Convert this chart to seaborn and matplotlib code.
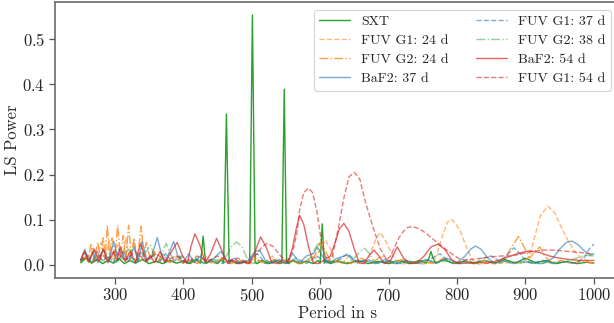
import matplotlib
matplotlib.use("Agg")
import matplotlib.pyplot as plt
import seaborn as sns
import pandas as pd

# ---------------- data (period in s, LS power) ----------------
sxt_p = [250,258,266,274,282,290,298,306,314,322,330,340,350,360,370,380,390,400,410,418,425,427,429,431,433,440,450,456,459,463,467,470,478,486,494,497,501,505,508,515,525,535,541,544,547.5,551,554,560,570,580,590,597,600,603,606,609,615,625,640,655,670,685,700,715,730,745,755,759,762,765,769,780,795,810,825,840,855,870,885,900,915,930,945,960,975,990,1000]
sxt_v = [0.005,0.015,0.004,0.012,0.003,0.01,0.004,0.014,0.003,0.01,0.004,0.012,0.003,0.008,0.003,0.01,0.004,0.008,0.003,0.012,0.004,0.03,0.064,0.03,0.004,0.01,0.003,0.012,0.004,0.334,0.004,0.01,0.003,0.008,0.003,0.005,0.553,0.005,0.003,0.01,0.003,0.008,0.003,0.005,0.389,0.005,0.003,0.01,0.003,0.008,0.003,0.01,0.004,0.091,0.004,0.01,0.003,0.008,0.003,0.01,0.003,0.008,0.003,0.01,0.003,0.01,0.004,0.015,0.03,0.015,0.004,0.012,0.003,0.008,0.003,0.01,0.004,0.012,0.004,0.015,0.005,0.01,0.003,0.008,0.003,0.006,0.004]

fuvg1_24_p = [250,256,262,268,274,280,286,292,298,304,310,316,322,328,334,340,347,355,362,370,380,390,400,410,420,432,444,456,468,480,492,505,518,530,542,555,568,580,592,600,608,615,622,632,642,652,662,670,676,682,688,695,704,712,722,735,748,760,768,773,780,786,792,798,805,815,823,832,845,858,870,882,892,900,908,915,922,933,943,952,962,972,982,992,1000]
fuvg1_24_v = [0.01,0.03,0.008,0.04,0.01,0.05,0.012,0.055,0.01,0.045,0.008,0.06,0.01,0.05,0.008,0.04,0.006,0.03,0.005,0.025,0.004,0.02,0.003,0.015,0.004,0.02,0.003,0.015,0.003,0.012,0.004,0.015,0.003,0.02,0.004,0.012,0.003,0.01,0.01,0.035,0.055,0.035,0.008,0.003,0.02,0.004,0.003,0.012,0.036,0.06,0.072,0.055,0.027,0.005,0.002,0.01,0.002,0.004,0.015,0.035,0.07,0.095,0.101,0.092,0.074,0.035,0.01,0.002,0.004,0.002,0.006,0.003,0.004,0.006,0.03,0.07,0.11,0.13,0.115,0.085,0.055,0.03,0.015,0.008,0.005]

fuvg2_24_p = [250,255,260,265,270,275,279,283,286,289,292,296,300,304,308,312,316,320,324,328,332,335,338.6,342,346,352,358,365,372,380,390,400,410,420,432,445,458,470,483,495,508,520,532,545,558,570,582,592,600,608,616,630,645,660,675,690,705,720,735,750,765,780,795,810,825,840,855,870,880,890,898,906,914,921,928,938,952,966,980,1000]
fuvg2_24_v = [0.01,0.03,0.008,0.045,0.01,0.05,0.012,0.06,0.02,0.088,0.02,0.06,0.015,0.088,0.02,0.065,0.012,0.088,0.02,0.06,0.012,0.04,0.086,0.02,0.05,0.01,0.03,0.006,0.02,0.005,0.015,0.004,0.012,0.003,0.01,0.003,0.015,0.003,0.01,0.003,0.012,0.003,0.012,0.003,0.01,0.003,0.01,0.02,0.05,0.03,0.005,0.012,0.003,0.015,0.004,0.02,0.004,0.012,0.003,0.01,0.003,0.015,0.004,0.01,0.003,0.01,0.003,0.015,0.04,0.063,0.04,0.015,0.03,0.04,0.02,0.005,0.01,0.003,0.008,0.004]

baf2_37_p = [250,256,262,268,275,283,291,298.5,305,312,320,328,334,340,347,354,358,362,367,373,380,386,392,400,408,416,425,435,445,455,465,475,485,495,505,512,520,530,540,550,560,570,580,590,596,603,612,625,640,652,665,680,695,710,725,740,755,770,785,800,812,820,827,835,845,855,868,880,895,910,925,940,950,960,968,977,987,995,1000]
baf2_37_v = [0.01,0.035,0.008,0.03,0.005,0.035,0.01,0.052,0.01,0.03,0.008,0.04,0.008,0.052,0.01,0.02,0.04,0.061,0.03,0.005,0.03,0.052,0.02,0.005,0.025,0.005,0.02,0.004,0.015,0.03,0.006,0.015,0.003,0.01,0.03,0.032,0.01,0.004,0.012,0.004,0.025,0.005,0.02,0.025,0.04,0.02,0.004,0.015,0.022,0.006,0.01,0.003,0.012,0.003,0.01,0.004,0.012,0.004,0.015,0.005,0.02,0.035,0.042,0.035,0.015,0.004,0.01,0.004,0.008,0.004,0.003,0.015,0.035,0.05,0.053,0.045,0.03,0.022,0.025]

fuvg1_37_p = [250,258,266,274,282,290,298,306,314,322,330,338,346,355,364,374,384,395,406,418,430,442,455,468,482,495,508,520,535,550,565,580,595,610,625,640,655,670,685,700,715,730,745,760,775,790,805,815,825,838,850,862,872,883,892,900,910,925,940,955,968,978,985,993,1000]
fuvg1_37_v = [0.008,0.025,0.006,0.03,0.008,0.02,0.005,0.035,0.008,0.02,0.005,0.03,0.008,0.02,0.004,0.025,0.005,0.02,0.003,0.015,0.003,0.012,0.003,0.01,0.003,0.012,0.025,0.004,0.01,0.003,0.015,0.003,0.02,0.004,0.01,0.025,0.006,0.012,0.003,0.01,0.003,0.008,0.003,0.012,0.025,0.006,0.004,0.012,0.003,0.015,0.02,0.008,0.02,0.038,0.025,0.01,0.004,0.01,0.003,0.008,0.004,0.008,0.015,0.035,0.046]

fuvg2_38_p = [250,258,266,275,284,293,302,312,322,330,340,346,352,358,364,370,375,381,388,398,408,420,432,445,455,463,470,478,486,494,502,512,522,535,548,562,575,585,592,598,605,612,625,638,650,658,665,672,680,695,710,725,740,755,770,785,800,815,830,845,860,875,890,905,920,935,950,965,980,990,1000]
fuvg2_38_v = [0.005,0.02,0.004,0.025,0.005,0.02,0.004,0.025,0.035,0.008,0.02,0.03,0.044,0.02,0.008,0.03,0.048,0.025,0.005,0.02,0.004,0.015,0.003,0.012,0.01,0.02,0.04,0.051,0.04,0.012,0.003,0.01,0.003,0.012,0.003,0.01,0.003,0.015,0.035,0.05,0.03,0.006,0.01,0.003,0.015,0.03,0.037,0.025,0.005,0.008,0.002,0.008,0.003,0.012,0.004,0.01,0.003,0.008,0.003,0.008,0.003,0.01,0.004,0.008,0.004,0.006,0.005,0.01,0.018,0.021,0.02]

baf2_54_p = [250,256,262,270,277,283,290,298,303,308,315,322,330,337.6,345,352,358,366,373,383,391,399,406,411,417,424,432,440,448.6,457,465,473,482,490,497,505,513,521,529,537,545,553,560,565,570,576,583,590,597,605,615,622,628,634.7,642,650,657,664,671,678.6,686,694,703,712.7,722,732,742,752,762,772,782,792,802,815,830,845,860,875,890,905,920,935,950,965,980,1000]
baf2_54_v = [0.01,0.03,0.006,0.035,0.008,0.035,0.005,0.03,0.01,0.04,0.008,0.03,0.006,0.048,0.01,0.02,0.005,0.03,0.006,0.03,0.05,0.02,0.004,0.04,0.069,0.045,0.006,0.025,0.059,0.03,0.003,0.01,0.003,0.008,0.003,0.03,0.062,0.04,0.006,0.003,0.012,0.005,0.04,0.08,0.11,0.09,0.04,0.005,0.003,0.01,0.02,0.05,0.08,0.092,0.075,0.035,0.005,0.003,0.02,0.033,0.02,0.003,0.01,0.04,0.015,0.003,0.005,0.02,0.04,0.046,0.035,0.012,0.003,0.004,0.006,0.004,0.01,0.018,0.026,0.031,0.028,0.02,0.015,0.012,0.01,0.01]

fuvg1_54_p = [250,260,270,280,290,300,315,330,345,360,375,390,405,420,435,450,465,480,495,505,515,523,532,542,552,560,566,570,576,583,589,595,601,607,613,618,627,635,642,650,658,666,677,688,697,703,709,715,722,728,735,745,755,765,775,785,795,803,810,820,835,850,865,880,895,910,925,940,955,970,985,1000]
fuvg1_54_v = [0.01,0.02,0.008,0.025,0.01,0.03,0.012,0.03,0.008,0.025,0.01,0.02,0.005,0.02,0.008,0.02,0.01,0.015,0.005,0.02,0.04,0.048,0.04,0.02,0.01,0.03,0.07,0.122,0.16,0.17,0.16,0.12,0.06,0.02,0.008,0.02,0.085,0.15,0.195,0.205,0.19,0.14,0.085,0.035,0.012,0.02,0.04,0.06,0.075,0.083,0.085,0.08,0.07,0.057,0.045,0.033,0.022,0.014,0.011,0.012,0.015,0.018,0.02,0.02,0.025,0.03,0.033,0.033,0.031,0.029,0.027,0.024]

series = [
    ("SXT",           sxt_p,      sxt_v,      "#2ca02c", "-",  1.0),
    ("FUV G1: 24 d",  fuvg1_24_p, fuvg1_24_v, "#ff7f0e", "--", 0.55),
    ("FUV G2: 24 d",  fuvg2_24_p, fuvg2_24_v, "#ff7f0e", "-.", 0.75),
    ("BaF2: 37 d",    baf2_37_p,  baf2_37_v,  "#1f77b4", "-",  0.6),
    ("FUV G1: 37 d",  fuvg1_37_p, fuvg1_37_v, "#1f77b4", "--", 0.6),
    ("FUV G2: 38 d",  fuvg2_38_p, fuvg2_38_v, "#2ca02c", "-.", 0.5),
    ("BaF2: 54 d",    baf2_54_p,  baf2_54_v,  "#d62728", "-",  0.7),
    ("FUV G1: 54 d",  fuvg1_54_p, fuvg1_54_v, "#d62728", "--", 0.6),
]

# ---------------- style ----------------
sns.set_theme(style="ticks")
plt.rcParams["font.family"] = ["cmr10", "DejaVu Serif"]
plt.rcParams["mathtext.fontset"] = "cm"
plt.rcParams["axes.formatter.use_mathtext"] = True
plt.rcParams["axes.unicode_minus"] = False

fig = plt.figure(figsize=(6.14, 3.23), dpi=100)
ax = fig.add_axes([55/614, 45.5/323, 564.5/614, 275.1/323])

for name, p, v, col, ls, a in series:
    df = pd.DataFrame({"period": p, "power": v})
    sns.lineplot(data=df, x="period", y="power", ax=ax, color=col,
                 linestyle=ls, alpha=a, linewidth=1.0, label=name,
                 estimator=None, sort=False)

ax.set_xlim(212.5, 1037.5)
ax.set_ylim(-0.0277, 0.581)
ax.set_xticks([300, 400, 500, 600, 700, 800, 900, 1000])
ax.set_yticks([0.0, 0.1, 0.2, 0.3, 0.4, 0.5])
ax.set_xlabel("Period in s", fontsize=12, labelpad=1)
ax.set_ylabel("LS Power", fontsize=12, labelpad=1.5)
ax.tick_params(axis="both", labelsize=12, direction="out", length=4,
               color="#555555", width=0.9, pad=3)
for s in ["left", "bottom", "top"]:
    ax.spines[s].set_color("#6b6b6b")
    ax.spines[s].set_linewidth(1.2)
ax.spines["right"].set_visible(False)

leg = ax.legend(ncol=2, fontsize=10, loc="upper right",
                bbox_to_anchor=(611/614, 1 - 10/323),
                bbox_transform=fig.transFigure, borderaxespad=0,
                frameon=True, fancybox=True, framealpha=1,
                handlelength=2.2, columnspacing=2.0, labelspacing=0.45)
leg.get_frame().set_edgecolor("#d5d5d5")
leg.get_frame().set_linewidth(0.8)

fig.savefig("out.png", dpi=100)
